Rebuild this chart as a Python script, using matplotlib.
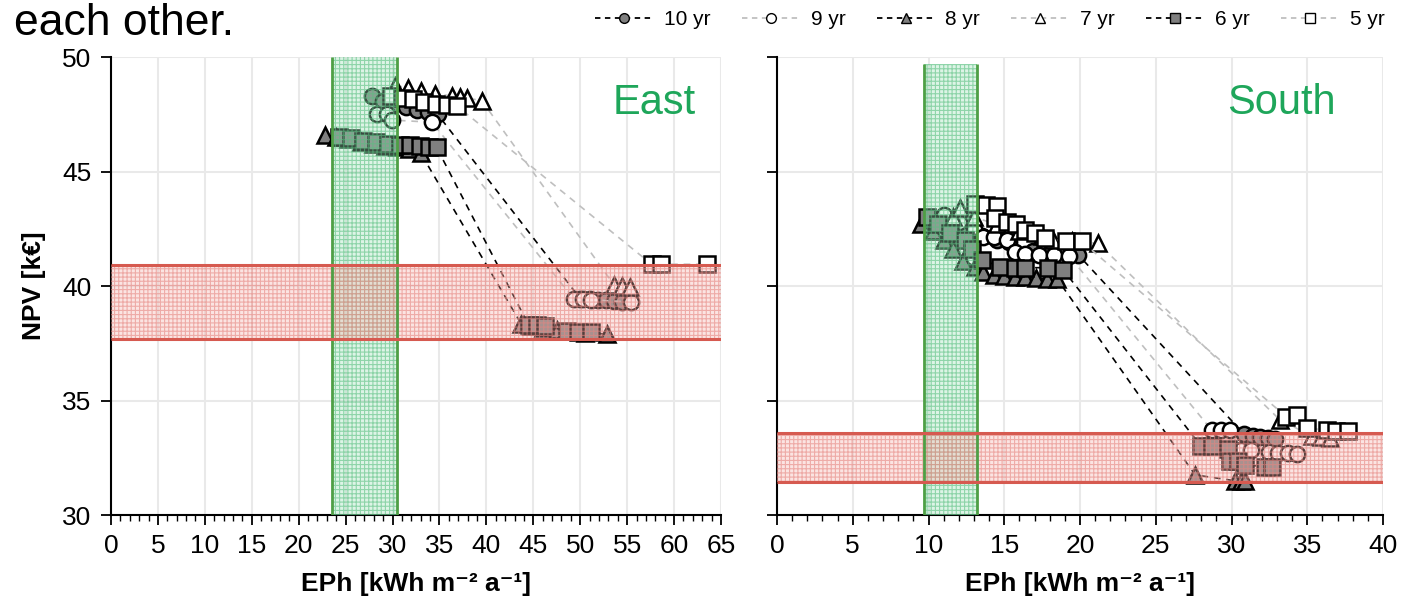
import matplotlib
matplotlib.use('Agg')
import matplotlib.pyplot as plt
import matplotlib.ticker as mticker
from matplotlib.lines import Line2D

plt.rcParams['font.family'] = ['Liberation Sans', 'DejaVu Sans']
plt.rcParams['hatch.linewidth'] = 0.8

# --- East: each series is one path (top group, then jump to the lower group)
east_10_x = [27.8, 29.0, 30.2, 31.4, 32.6, 33.8, 34.8, 50.0, 51.0, 51.9, 52.7, 53.6, 54.4]
east_10_y = [48.3, 48.1, 47.95, 47.8, 47.7, 47.6, 47.5, 39.45, 39.45, 39.4, 39.4, 39.35, 39.3]
east_9_x = [28.3, 29.4, 29.9, 34.2, 49.3, 50.3, 51.2, 55.4]
east_9_y = [47.5, 47.5, 47.25, 47.15, 39.45, 39.45, 39.4, 39.3]
east_8_x = [22.8, 24.0, 25.3, 26.6, 27.9, 29.2, 30.5, 31.8, 33.0, 43.7, 44.8, 46.0, 47.5, 50.5, 52.9]
east_8_y = [46.6, 46.5, 46.4, 46.3, 46.2, 46.1, 46.05, 46.0, 45.8, 38.35, 38.25, 38.15, 38.1, 37.95, 37.9]
east_7_x = [30.3, 31.7, 33.0, 34.5, 36.3, 37.2, 37.9, 39.5, 53.6, 54.5, 55.3]
east_7_y = [48.75, 48.65, 48.5, 48.4, 48.3, 48.25, 48.2, 48.1, 40.05, 40.0, 39.95]
east_6_x = [24.3, 25.6, 26.9, 28.2, 29.5, 30.8, 31.9, 32.9, 33.9, 34.7, 44.5, 45.4, 46.2, 48.6, 49.8, 51.1]
east_6_y = [46.5, 46.45, 46.35, 46.3, 46.2, 46.15, 46.15, 46.1, 46.05, 46.05, 38.3, 38.3, 38.25, 38.05, 38.0, 38.0]
east_5_x = [29.8, 31.0, 32.2, 33.4, 34.6, 35.8, 36.9, 57.6, 58.6, 63.5]
east_5_y = [48.3, 48.2, 48.15, 48.05, 47.95, 47.9, 47.85, 40.95, 40.95, 40.95]

# --- South
south_10_x = [10.0, 11.0, 12.2, 13.5, 14.5, 15.3, 16.9, 18.0, 19.9, 30.8, 31.4, 31.9, 32.4, 32.9]
south_10_y = [42.9, 42.7, 42.5, 42.2, 42.0, 41.9, 41.55, 41.45, 41.35, 33.55, 33.45, 33.4, 33.35, 33.3]
south_9_x = [10.5, 11.0, 12.0, 13.0, 13.6, 14.3, 15.2, 15.7, 16.4, 17.3, 18.3, 19.3,
             28.7, 29.3, 29.9, 30.6, 31.3, 32.5, 33.1, 33.7, 34.3]
south_9_y = [42.9, 43.1, 42.8, 42.5, 42.15, 42.15, 42.0, 41.5, 41.4, 41.35, 41.35, 41.3,
             33.7, 33.7, 33.7, 32.85, 32.85, 32.75, 32.7, 32.7, 32.65]
south_8_x = [9.5, 10.3, 11.0, 11.6, 12.3, 13.1, 13.6, 14.3, 15.0, 15.7, 16.4, 17.1, 17.8, 18.5,
             27.6, 30.2, 30.6, 30.9]
south_8_y = [42.7, 42.4, 42.0, 41.6, 41.1, 40.85, 40.6, 40.5, 40.45, 40.4, 40.4, 40.35, 40.3, 40.3,
             31.75, 31.5, 31.5, 31.5]
south_7_x = [11.6, 12.1, 13.0, 14.5, 16.0, 17.5, 18.2, 19.5, 21.2, 33.2, 35.3, 35.9, 36.5]
south_7_y = [43.0, 43.4, 43.0, 42.7, 42.4, 42.2, 42.0, 41.95, 41.86, 34.15, 33.45, 33.4, 33.35]
south_6_x = [9.9, 10.6, 11.4, 12.4, 12.85, 13.5, 14.7, 15.7, 16.4, 17.9, 18.9,
             28.0, 28.7, 29.8, 29.9, 30.4, 30.9, 32.2, 32.7]
south_6_y = [43.0, 42.7, 42.3, 42.0, 41.6, 41.15, 40.85, 40.8, 40.8, 40.8, 40.7,
             33.0, 33.0, 32.9, 32.35, 32.35, 32.2, 32.1, 32.1]
south_5_x = [13.1, 13.8, 14.5, 14.4, 15.2, 15.8, 16.4, 17.0, 17.7, 19.1, 20.1,
             33.6, 34.3, 35.0, 36.3, 36.9, 37.7]
south_5_y = [43.6, 43.55, 43.5, 42.95, 42.8, 42.7, 42.45, 42.3, 42.1, 41.95, 41.95,
             34.3, 34.35, 33.8, 33.7, 33.65, 33.65]

series_labels = ['10 yr', '9 yr', '8 yr', '7 yr', '6 yr', '5 yr']
east_series = [(east_10_x, east_10_y), (east_9_x, east_9_y), (east_8_x, east_8_y),
               (east_7_x, east_7_y), (east_6_x, east_6_y), (east_5_x, east_5_y)]
south_series = [(south_10_x, south_10_y), (south_9_x, south_9_y), (south_8_x, south_8_y),
                (south_7_x, south_7_y), (south_6_x, south_6_y), (south_5_x, south_5_y)]

# bands (x range of green zone, y range of red zone)
east_green = (23.5, 30.5)
east_red = (37.7, 40.9)
south_green = (9.7, 13.2)
south_red = (31.45, 33.6)

# style per series: marker, face, line colour
STYLES = [
    ('o', '#7f7f7f', 'black'),
    ('o', 'white', '#bfbfbf'),
    ('^', '#7f7f7f', 'black'),
    ('^', 'white', '#bfbfbf'),
    ('s', '#7f7f7f', 'black'),
    ('s', 'white', '#bfbfbf'),
]
GREEN_TXT = '#1ea65a'


def draw_panel(ax, series, xmax, green, red, green_top, title, title_x):
    for (xs, ys), (mk, face, lc) in zip(series, STYLES):
        ax.plot(xs, ys, linestyle=(0, (4, 3.5)), color=lc, lw=1.2,
                marker=mk, markersize=11, markerfacecolor=face,
                markeredgecolor='black', markeredgewidth=1.8, zorder=3)

    # green zone
    top = (green_top - 30) / 20
    ax.axvspan(*green, ymin=0, ymax=top, facecolor=(0.62, 0.88, 0.72, 0.35),
               edgecolor=(0.35, 0.75, 0.5, 0.6), hatch='++++', lw=0, zorder=4)
    ax.vlines(green, 30, green_top, colors='#4e9f45', lw=2, zorder=5)
    # red zone
    ax.axhspan(*red, facecolor=(0.96, 0.70, 0.68, 0.35),
               edgecolor=(0.90, 0.52, 0.50, 0.6), hatch='++++', lw=0, zorder=4)
    ax.hlines(red, 0, xmax, colors='#d65a50', lw=2.2, zorder=5)

    ax.set_xlim(0, xmax)
    ax.set_ylim(30, 50)
    ax.xaxis.set_major_locator(mticker.MultipleLocator(5))
    ax.xaxis.set_minor_locator(mticker.MultipleLocator(1))
    ax.yaxis.set_major_locator(mticker.MultipleLocator(5))
    ax.grid(True, which='major', color='#e9e9e9', lw=1.5, zorder=0)
    ax.set_axisbelow(True)
    for side in ('top', 'right'):
        ax.spines[side].set_visible(False)
    for side in ('left', 'bottom'):
        ax.spines[side].set_linewidth(1.5)
    ax.tick_params(axis='both', which='major', labelsize=19, width=1.3, length=7, pad=7)
    ax.tick_params(axis='x', which='minor', width=1.0, length=4)
    ax.set_xlabel('EPh [kWh m⁻² a⁻¹]', fontsize=19, fontweight='bold', labelpad=10)
    ax.text(title_x, 0.90, title, transform=ax.transAxes,
            fontsize=30, color=GREEN_TXT, ha='center', va='center')


fig = plt.figure(figsize=(14.14, 6.11), dpi=100)
ax_e = fig.add_axes([0.0785, 0.1571, 0.4314, 0.7496])
ax_s = fig.add_axes([0.5495, 0.1571, 0.4286, 0.7496])

draw_panel(ax_e, east_series, 65, east_green, east_red, 50, 'East', 0.89)
draw_panel(ax_s, south_series, 40, south_green, south_red, 49.7, 'South', 0.833)
ax_s.tick_params(axis='y', labelleft=False)
ax_e.set_ylabel('NPV [k€]', fontsize=19, fontweight='bold', labelpad=12)

# slide text above the chart (cropped at the top in the source)
fig.text(0.01, 0.942, 'each other.', fontsize=32, va='baseline', ha='left')

handles = [Line2D([], [], linestyle=(0, (3, 2.5)), color=lc, lw=1.3, marker=mk, markersize=7,
                  markerfacecolor=face, markeredgecolor='black', markeredgewidth=1.0)
           for mk, face, lc in STYLES]
fig.legend(handles, series_labels, loc='center', bbox_to_anchor=(0.70, 0.968), ncol=6,
           frameon=False, fontsize=15, handlelength=2.8, handletextpad=0.5, columnspacing=1.5)

fig.savefig('out.png', dpi=100)
